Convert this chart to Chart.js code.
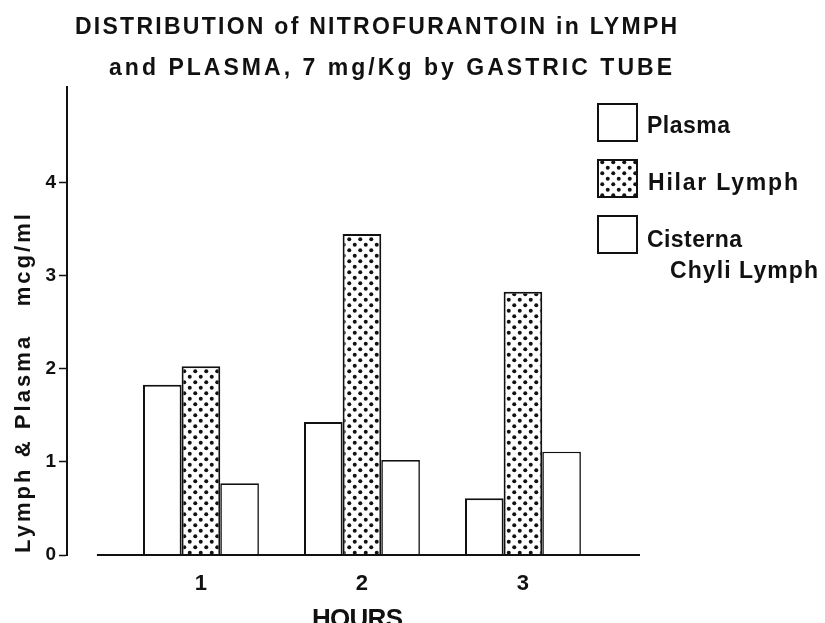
<!DOCTYPE html>
<html>
<head>
<meta charset="utf-8">
<script src="https://cdn.jsdelivr.net/npm/chart.js@4.4.1/dist/chart.umd.min.js"></script>
<style>
  html, body { margin: 0; padding: 0; background: #fff; }
  #wrap { width: 825px; height: 623px; position: relative; }
</style>
</head>
<body>
<div id="wrap"><canvas id="c" width="825" height="623"></canvas></div>
<script>
// ---- data ----
const hours = [1, 2, 3];
const plasma = [1.83, 1.43, 0.61];
const hilarLymph = [2.03, 3.45, 2.83];
const cisternaChyliLymph = [0.77, 1.02, 1.11];
const yTicks = [0, 1, 2, 3, 4];
const seriesNames = ['Plasma', 'Hilar Lymph', 'Cisterna', 'Chyli Lymph'];
const titleLines = ['DISTRIBUTION of NITROFURANTOIN in LYMPH', 'and PLASMA, 7 mg/Kg by GASTRIC TUBE'];
const yTitle = 'Lymph & Plasma   mcg/ml';
const xTitle = 'HOURS';

const FONT = '"Liberation Sans", Arial, sans-serif';
const INK = '#111';

// dotted pattern for Hilar Lymph
function makeDots() {
  const p = document.createElement('canvas');
  p.width = 11; p.height = 11;
  const g = p.getContext('2d');
  g.fillStyle = '#fff'; g.fillRect(0, 0, 11, 11);
  g.fillStyle = INK;
  [[2.75, 2.75], [8.25, 8.25]].forEach(([x, y]) => { g.beginPath(); g.arc(x, y, 2.0, 0, Math.PI * 2); g.fill(); });
  return document.getElementById('c').getContext('2d').createPattern(p, 'repeat');
}
const dots = makeDots();

function fitText(ctx, text, x, y, w, font) {
  ctx.font = font;
  ctx.letterSpacing = '0px';
  const m = ctx.measureText(text).width;
  const ls = (w - m) / Math.max(1, text.length - 1);
  ctx.letterSpacing = ls.toFixed(2) + 'px';
  ctx.textAlign = 'left';
  ctx.fillText(text, x, y);
  ctx.letterSpacing = '0px';
}

const decor = {
  id: 'decor',
  afterDatasetsDraw(chart) {
    const { ctx, chartArea, scales } = chart;
    const y0 = scales.y.getPixelForValue(0);
    ctx.save();
    ctx.strokeStyle = INK; ctx.lineWidth = 2;
    ctx.beginPath();
    ctx.moveTo(scales.x.getPixelForValue(0.354), y0);
    ctx.lineTo(chartArea.right, y0);
    ctx.stroke();
    ctx.restore();
  },
  afterDraw(chart) {
    const { ctx } = chart;
    ctx.save();
    ctx.fillStyle = INK;
    ctx.textBaseline = 'alphabetic';
    // title
    fitText(ctx, titleLines[0], 75, 34, 602, 'bold 23px ' + FONT);
    fitText(ctx, titleLines[1], 109, 75, 563, 'bold 23px ' + FONT);
    // y title
    ctx.save();
    ctx.translate(30, 553);
    ctx.rotate(-Math.PI / 2);
    fitText(ctx, yTitle, 0, 0, 339, 'bold 22px ' + FONT);
    ctx.restore();
    // x title (cut by the bottom edge, as in the reference)
    fitText(ctx, xTitle, 312, 627, 91, 'bold 26px ' + FONT);
    // legend
    const boxes = [
      { y: 103, fill: '#fff' },
      { y: 159, fill: dots },
      { y: 215, fill: '#fff' }
    ];
    boxes.forEach(b => {
      ctx.fillStyle = b.fill;
      ctx.fillRect(597, b.y, 41, 39);
      ctx.strokeStyle = INK; ctx.lineWidth = 2;
      ctx.strokeRect(598, b.y + 1, 39, 37);
    });
    ctx.fillStyle = INK;
    fitText(ctx, seriesNames[0], 647, 133, 83, 'bold 23px ' + FONT);
    fitText(ctx, seriesNames[1], 648, 190, 150, 'bold 23px ' + FONT);
    fitText(ctx, seriesNames[2], 647, 247, 95, 'bold 23px ' + FONT);
    fitText(ctx, seriesNames[3], 670, 278, 148, 'bold 23px ' + FONT);
    ctx.restore();
  }
};

const toPts = arr => hours.map((h, i) => ({ x: h, y: arr[i] }));

new Chart(document.getElementById('c'), {
  type: 'bar',
  data: {
    datasets: [
      { label: seriesNames[0], data: toPts(plasma), backgroundColor: '#fff', borderColor: INK, borderWidth: 2 },
      { label: seriesNames[1], data: toPts(hilarLymph), backgroundColor: dots, borderColor: INK, borderWidth: 2 },
      { label: seriesNames[2] + ' ' + seriesNames[3], data: toPts(cisternaChyliLymph), backgroundColor: '#fff', borderColor: INK, borderWidth: 1.6 }
    ]
  },
  options: {
    responsive: false,
    animation: false,
    devicePixelRatio: 1,
    layout: { padding: { top: 87, right: 185, left: 0, bottom: 0 } },
    datasets: { bar: { categoryPercentage: 0.72, barPercentage: 1.0, borderSkipped: 'bottom' } },
    plugins: { legend: { display: false }, title: { display: false }, tooltip: { enabled: false } },
    scales: {
      x: {
        type: 'linear',
        min: 0.168, max: 3.727,
        offset: false,
        grid: { display: false },
        border: { display: false },
        afterBuildTicks: s => { s.ticks = hours.map(v => ({ value: v })); },
        afterFit: s => { s.height = 68; },
        ticks: { color: INK, font: { family: FONT, size: 22, weight: 'bold' }, padding: 8, callback: v => String(v), maxRotation: 0 }
      },
      y: {
        min: 0, max: 5.03,
        afterBuildTicks: s => { s.ticks = yTicks.map(v => ({ value: v })); },
        afterFit: s => { s.width = 67; },
        border: { display: true, color: INK, width: 2 },
        grid: { drawOnChartArea: false, drawTicks: true, tickLength: 8, tickColor: INK, tickWidth: 1.5 },
        ticks: { color: INK, font: { family: FONT, size: 19, weight: 'bold' }, padding: 3, callback: v => String(v) }
      }
    }
  },
  plugins: [decor]
});
</script>
</body>
</html>
